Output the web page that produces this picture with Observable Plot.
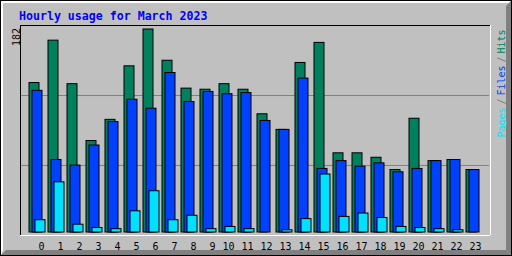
<!DOCTYPE html>
<html>
<head>
<meta charset="utf-8">
<script src="https://cdn.jsdelivr.net/npm/d3@7"></script>
<script src="https://cdn.jsdelivr.net/npm/@observablehq/plot@0.6"></script>
<style>
  html, body { margin: 0; padding: 0; background: #c0c0c0; }
  #chart svg { display: block; }
</style>
</head>
<body>
<div id="chart"></div>
<script>
// ---- data ----
const title = "Hourly usage for March 2023";
const hours = d3.range(24);
const hits  = [134, 172, 133, 82, 101, 149, 182, 154, 129, 128, 133, 128, 106, 92, 152, 170, 71, 71, 67, 56, 102, 64, 65, 56];
const files = [127, 65, 60, 78, 99, 119, 111, 143, 117, 126, 124, 125, 100, 92, 138, 57, 64, 59, 62, 54, 57, 64, 65, 56];
const pages = [11, 45, 7, 4, 3, 19, 37, 11, 15, 3, 5, 3, 0, 2, 12, 52, 14, 17, 13, 5, 4, 3, 2, 0];
const maxVal = 182;
const maxLabel = "182";
const gridValues = [60.1, 122.8];
const legendParts = ["Pages", "/", "Files", "/", "Hits"];
const legendColors = ["#00e0ff", "#808080", "#0040ff", "#808080", "#00805c"];

// ---- layout / style ----
const C_HITS = "#00805c", C_FILES = "#0040ff", C_PAGES = "#00e0ff";
const slot = 19;               // px per hour
const barW = 10 / slot;        // bar width in hour units
const legendOffsets = [108, 75, 66, 33, 24];
const mono = "DejaVu Sans Mono, Liberation Mono, monospace";

const rows = hours.map((h, i) => ({hour: h, hits: hits[i], files: files[i], pages: pages[i]}));

function bars(key, off, color) {
  return Plot.rect(rows, {
    filter: d => d[key] > 0,
    x1: d => d.hour + off / slot,
    x2: d => d.hour + off / slot + barW,
    y1: d => 0,
    y2: d => d[key],
    fill: color,
    stroke: "black",
    strokeWidth: 1
  });
}

const chart = Plot.plot({
  width: 512,
  height: 256,
  marginLeft: 29,
  marginRight: 27,
  marginTop: 29,
  marginBottom: 24,
  x: {type: "linear", domain: [0, 24], axis: null},
  y: {domain: [0, maxVal], axis: null},
  style: {background: "#c0c0c0", overflow: "visible"},
  marks: [
    // grid lines
    Plot.ruleY(gridValues, {stroke: "#808080", strokeWidth: 1, insetLeft: -8, insetRight: -4}),
    // bars
    bars("hits", 0, C_HITS),
    bars("files", 3, C_FILES),
    bars("pages", 6, C_PAGES),
    // inner sunken box
    Plot.ruleY([0], {dy: 3, stroke: "white", insetLeft: -9, insetRight: -5}),
    Plot.ruleX([24], {dx: 5, stroke: "white", insetTop: -4, insetBottom: -3}),
    Plot.ruleY([maxVal], {dy: -4, stroke: "black", insetLeft: -9, insetRight: -5}),
    Plot.ruleX([0], {dx: -9, stroke: "black", insetTop: -4, insetBottom: -3}),
    // hour labels
    Plot.text(hours, {
      x: d => d, y: d => 0, text: d => String(d),
      textAnchor: "end", lineAnchor: "bottom", dx: 15, dy: 17,
      fontFamily: mono, fontSize: 10, fill: "black"
    }),
    // max value label
    Plot.text([maxLabel], {
      frameAnchor: "top-left", text: d => d, rotate: -90,
      textAnchor: "start", lineAnchor: "bottom", dx: -9.5, dy: 16.5,
      fontFamily: mono, fontSize: 10, fill: "black"
    }),
    // title
    Plot.text([title], {
      frameAnchor: "top-left", text: d => d,
      textAnchor: "start", lineAnchor: "bottom", dx: -10.5, dy: -9.5,
      fontFamily: mono, fontWeight: "bold", fontSize: 11.6, fill: "#0000ff"
    }),
    // legend
    ...legendParts.map((p, i) => Plot.text([p], {
      frameAnchor: "top-right", text: d => d, rotate: -90,
      textAnchor: "start", lineAnchor: "bottom", dx: 19.5, dy: legendOffsets[i],
      fontFamily: mono, fontSize: 10, fill: legendColors[i]
    }))
  ]
});

// outer bevel (decoration)
const svg = d3.select(chart);
const deco = svg.insert("g", ":first-child");
deco.append("polygon").attr("points", "1,1 511,1 509,3 3,3").attr("fill", "white");
deco.append("polygon").attr("points", "1,1 3,3 3,250 1,255").attr("fill", "white");
deco.append("polygon").attr("points", "1,255 511,255 506,250 6,250").attr("fill", "#808080");
deco.append("polygon").attr("points", "511,1 511,255 506,250 506,6").attr("fill", "#808080");
deco.append("rect").attr("x", 0.5).attr("y", 0.5).attr("width", 511).attr("height", 255)
  .attr("fill", "none").attr("stroke", "black");

document.getElementById("chart").appendChild(chart);
</script>
</body>
</html>
